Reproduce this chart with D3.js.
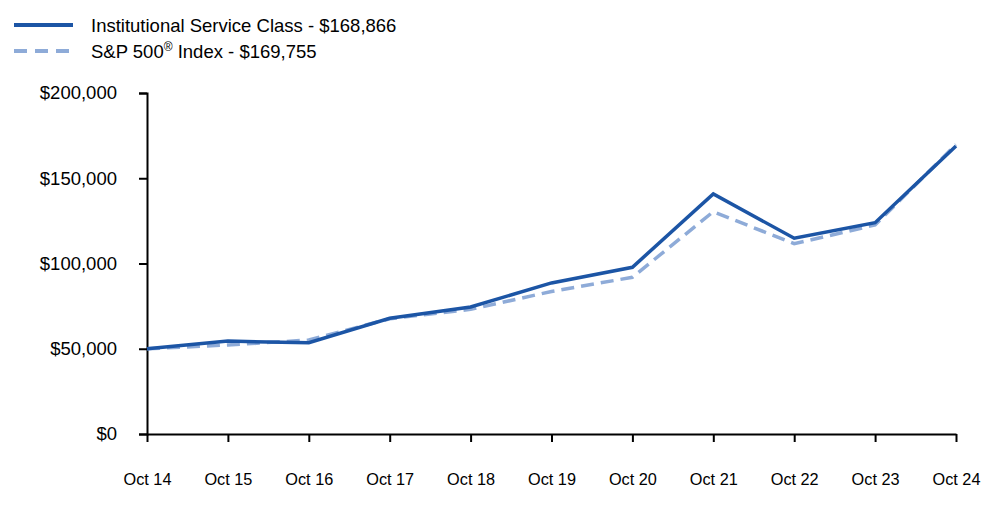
<!DOCTYPE html>
<html>
<head>
<meta charset="utf-8">
<script src="https://cdn.jsdelivr.net/npm/d3@7"></script>
<style>
  body { margin: 0; background: #fff; }
  text { font-family: "Liberation Sans", Arial, sans-serif; fill: #000; }
</style>
</head>
<body>
<svg class="chart"></svg>
<script>
var years = ["Oct 14", "Oct 15", "Oct 16", "Oct 17", "Oct 18", "Oct 19", "Oct 20", "Oct 21", "Oct 22", "Oct 23", "Oct 24"];
var fundValues = [50000, 54500, 53500, 67900, 74500, 88600, 97800, 140800, 114800, 123900, 168866];
var indexValues = [50000, 52200, 55100, 67600, 73100, 83600, 91900, 130400, 111600, 122600, 169755];
var yTicks = [0, 50000, 100000, 150000, 200000];
var legendLabels = ["Institutional Service Class - $168,866", "S&P 500", " Index - $169,755"];

var width = 1000, height = 523;

var svg = d3.select(".chart")
    .attr("width", width)
    .attr("height", height);

var x = d3.scalePoint()
    .domain(years)
    .range([147, 956]);

var y = d3.scaleLinear()
    .domain([0, 200000])
    .range([434, 93]);

var fmt = function(d) { return "$" + d3.format(",")(d); };

// y axis
var yAxis = svg.append("g")
    .attr("transform", "translate(147,0)")
    .call(d3.axisLeft(y).tickValues(yTicks).tickFormat(fmt).tickSize(8).tickPadding(22));
yAxis.select(".domain").attr("stroke", "#000").attr("stroke-width", 2);
yAxis.selectAll(".tick line").attr("stroke", "#000").attr("stroke-width", 2);
yAxis.selectAll("text")
    .style("font-size", "18.5px")
    .style("font-family", "'Liberation Sans', Arial, sans-serif")
    .attr("fill", "#000");

// x axis
var xAxis = svg.append("g")
    .attr("transform", "translate(0,434)")
    .call(d3.axisBottom(x).tickSize(8).tickSizeOuter(0).tickPadding(31));
xAxis.select(".domain").attr("stroke", "#000").attr("stroke-width", 2);
xAxis.selectAll(".tick line").attr("stroke", "#000").attr("stroke-width", 2);
xAxis.selectAll("text")
    .style("font-size", "16.3px")
    .style("font-family", "'Liberation Sans', Arial, sans-serif")
    .attr("fill", "#000");

var line = d3.line()
    .x(function(d, i) { return x(years[i]); })
    .y(function(d) { return y(d); });

// index (dashed), drawn under the fund line
svg.append("path")
    .datum(indexValues)
    .attr("d", line)
    .attr("fill", "none")
    .attr("stroke", "#8eabd8")
    .attr("stroke-width", 3.5)
    .attr("stroke-dasharray", "13,7");

svg.append("path")
    .datum(fundValues)
    .attr("d", line)
    .attr("fill", "none")
    .attr("stroke", "#1c55a5")
    .attr("stroke-width", 3.5)
    .attr("stroke-linejoin", "miter");

// legend
svg.append("line")
    .attr("x1", 14).attr("x2", 73)
    .attr("y1", 25).attr("y2", 25)
    .attr("stroke", "#1c55a5")
    .attr("stroke-width", 4);

svg.append("line")
    .attr("x1", 14).attr("x2", 73)
    .attr("y1", 51).attr("y2", 51)
    .attr("stroke", "#8eabd8")
    .attr("stroke-width", 4)
    .attr("stroke-dasharray", "13,8");

svg.append("text")
    .attr("x", 91).attr("y", 32)
    .style("font-size", "18.5px")
    .text(legendLabels[0]);

var t2 = svg.append("text")
    .attr("x", 91).attr("y", 58)
    .style("font-size", "18.5px");
t2.append("tspan").text(legendLabels[1]);
t2.append("tspan").text("®").attr("dy", -7).style("font-size", "12px");
t2.append("tspan").text(legendLabels[2]).attr("dy", 7);
</script>
</body>
</html>
